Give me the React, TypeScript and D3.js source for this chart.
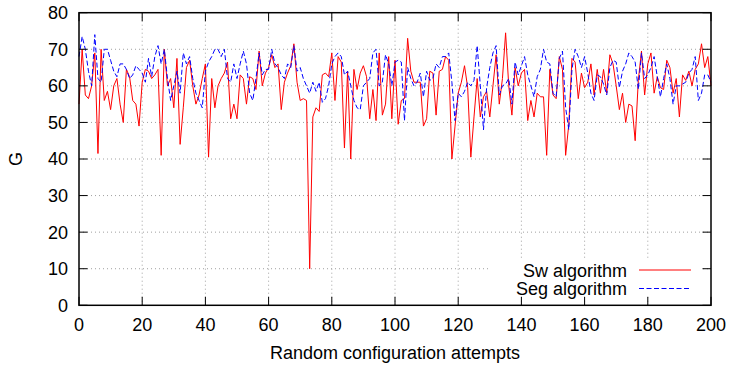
import React from "react";
import * as d3 from "d3";

const swValues: number[] = [
  55, 70, 57.5, 56.5, 60, 69, 41.5, 70, 56, 58.5,
  53.5, 60, 62, 55, 50, 64.5, 62.5, 56, 55, 49,
  61, 64.5, 64, 62, 63, 64.5, 41, 70, 60, 62,
  54, 67.5, 44, 54, 65, 67, 60, 55, 57.5, 62,
  66, 40.5, 62, 54, 60, 62, 63.5, 66.5, 51, 55,
  51, 63, 62, 55, 62.5, 62, 59, 69.5, 60, 63.5,
  65, 68.5, 65, 66, 53.5, 61, 63.5, 65.5, 71.5, 61,
  56, 56.5, 56, 10, 51.5, 54, 53, 63, 63.5, 62.5,
  69, 56, 68, 66.5, 43, 64, 40, 64.5, 59, 63.5,
  65.5, 62.5, 51, 59, 50.5, 69, 52, 55, 68, 51,
  67, 49.5, 56, 56.5, 73, 64, 61, 61, 61, 49,
  51, 64, 63.5, 52, 64, 64.5, 68, 67, 40, 49,
  58, 61, 65.5, 59.5, 40.5, 51.5, 62, 51.5, 57, 58.5,
  51.5, 60, 68.5, 55, 62, 74.5, 60, 52, 65, 60,
  63.5, 64.5, 50.5, 56, 51.5, 58, 57, 57, 41, 64.5,
  57.5, 56.5, 68, 64.5, 41, 49.5, 67.5, 66.5, 56.5, 63.5,
  59.5, 61, 66, 57.5, 64.5, 58, 64.5, 58, 68.5, 66,
  60, 53.5, 58, 50, 55, 54.5, 45, 61.5, 69.5, 57.5,
  66, 69, 58, 62.5, 59.5, 59, 67, 65, 58, 62,
  51.5, 63, 61.5, 64, 60, 64.5, 66, 71.5, 65, 68,
  60,
];

const segValues: number[] = [
  68, 73.5, 70, 64, 60, 74, 62, 61, 70, 70,
  67, 64, 62.5, 66, 66, 64.5, 62, 63, 65.5, 64.5,
  63.5, 61, 67.5, 62.5, 68, 71, 66, 70, 62, 56,
  60, 64, 58, 69, 66, 68, 62, 58, 56, 54,
  64, 66.5, 68, 70, 70, 68, 70, 62, 61, 66,
  62, 66, 69.5, 66, 58, 56, 62, 69, 63, 64.5,
  64.5, 70, 66, 65, 63, 62, 66, 65, 71, 64,
  65, 62, 60, 58, 61, 58.5, 61, 55.5, 56.5, 60,
  66, 68, 69, 68, 63, 64, 60, 56, 54, 53.5,
  60, 61, 62, 69, 70, 60, 61, 68.5, 66, 60,
  66.5, 67, 66.5, 50.5, 65, 62, 60, 61, 63.5, 57,
  64, 61.5, 62, 66, 65, 68, 68, 69, 61, 50.5,
  58, 57, 58.5, 61, 60, 61.5, 71, 60, 48, 59.5,
  65, 69, 71, 57.5, 60, 60.5, 62, 55, 66.5, 63,
  65.5, 68, 63, 60, 57, 62.5, 64.5, 70, 66.5, 66,
  58, 57, 67.5, 69.5, 54, 48, 64.5, 70, 68, 65,
  68, 63.5, 58, 56, 63, 62.5, 60.5, 57.5, 65, 67,
  66.5, 59.5, 64, 66, 69, 68, 66.5, 59, 69, 62,
  63, 65, 68, 62.5, 57, 62, 66, 62, 55, 60,
  60, 60.5, 61, 63.5, 64.5, 68, 56, 58, 63, 63,
  61,
];

const xTicks: number[] = [0, 20, 40, 60, 80, 100, 120, 140, 160, 180, 200];
const yTicks: number[] = [0, 10, 20, 30, 40, 50, 60, 70, 80];
const seriesNames: string[] = ["Sw algorithm", "Seg algorithm"];
const xTitle = "Random configuration attempts";
const yTitle = "G";

const W = 731;
const H = 365;
const left = 79;
const right = 711;
const top = 12.7;
const bottom = 305.3;
const FONT = "'Liberation Sans', Arial, Helvetica, sans-serif";
const FS = 18;
const TICK = 8.5;

export default function App() {
  const x = d3.scaleLinear().domain([0, 200]).range([left, right]);
  const y = d3.scaleLinear().domain([0, 80]).range([bottom, top]);
  const line = d3
    .line<number>()
    .x((_, i) => x(i))
    .y((d) => y(d));

  const gridStyle = { stroke: "#a0a0a0", strokeWidth: 1, strokeDasharray: "1,3" };

  return (
    <svg
      width={W}
      height={H}
      style={{ position: "absolute", left: 0, top: 0, background: "#fff" }}
      fontFamily={FONT}
    >
      <rect x={0} y={0} width={W} height={H} fill="#fff" />
      {/* grid */}
      {xTicks.slice(1, -1).map((t) => (
        <line key={"gx" + t} x1={x(t)} x2={x(t)} y1={top} y2={bottom} {...gridStyle} />
      ))}
      {yTicks.slice(1, -1).map((t) => (
        <line key={"gy" + t} x1={left} x2={right} y1={y(t)} y2={y(t)} {...gridStyle} />
      ))}
      {/* series */}
      <path d={line(swValues) || ""} fill="none" stroke="#ff0000" strokeWidth={1} />
      <path
        d={line(segValues) || ""}
        fill="none"
        stroke="#0000ff"
        strokeWidth={1}
        strokeDasharray="5,2.5"
      />
      {/* legend */}
      <rect x={489} y={259} width={211} height={38} fill="#fff" />
      <text x={627} y={276.5} textAnchor="end" fontSize={FS} fill="#000">
        {seriesNames[0]}
      </text>
      <line x1={639} x2={691} y1={270} y2={270} stroke="#ff0000" strokeWidth={1} />
      <text x={627} y={295} textAnchor="end" fontSize={FS} fill="#000">
        {seriesNames[1]}
      </text>
      <line
        x1={639}
        x2={691}
        y1={288.5}
        y2={288.5}
        stroke="#0000ff"
        strokeWidth={1}
        strokeDasharray="5,2.5"
      />
      {/* ticks */}
      {xTicks.map((t) => (
        <g key={"tx" + t}>
          <line x1={x(t)} x2={x(t)} y1={bottom} y2={bottom - TICK} stroke="#000" strokeWidth={1} />
          <line x1={x(t)} x2={x(t)} y1={top} y2={top + TICK} stroke="#000" strokeWidth={1} />
          <text x={x(t)} y={330.5} textAnchor="middle" fontSize={FS} fill="#000">
            {t}
          </text>
        </g>
      ))}
      {yTicks.map((t) => (
        <g key={"ty" + t}>
          <line x1={left} x2={left + TICK} y1={y(t)} y2={y(t)} stroke="#000" strokeWidth={1} />
          <line x1={right} x2={right - TICK} y1={y(t)} y2={y(t)} stroke="#000" strokeWidth={1} />
          <text x={68} y={y(t) + 6.4} textAnchor="end" fontSize={FS} fill="#000">
            {t}
          </text>
        </g>
      ))}
      {/* frame */}
      <rect
        x={left}
        y={top}
        width={right - left}
        height={bottom - top}
        fill="none"
        stroke="#000"
        strokeWidth={1.5}
      />
      {/* titles */}
      <text x={(left + right) / 2} y={358.5} textAnchor="middle" fontSize={FS} fill="#000">
        {xTitle}
      </text>
      <text
        transform={`translate(21.5,${(top + bottom) / 2}) rotate(-90)`}
        textAnchor="middle"
        fontSize={FS}
        fill="#000"
      >
        {yTitle}
      </text>
    </svg>
  );
}
